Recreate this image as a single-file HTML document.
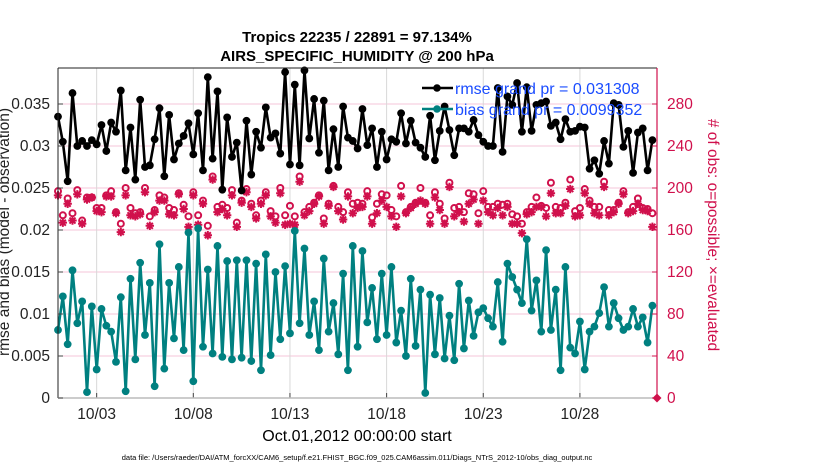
<!DOCTYPE html>
<html><head><meta charset="utf-8"><style>
html,body{margin:0;padding:0;background:#fff;}
svg text{font-family:"Liberation Sans",Arial,sans-serif;}
</style></head><body>
<svg id="chart" width="830" height="470" viewBox="0 0 830 470" xmlns="http://www.w3.org/2000/svg">
<g id="grid"></g>
<g id="series"></g>
<g id="axes"></g>
<text x="357" y="42" text-anchor="middle" font-size="15" font-weight="bold">Tropics 22235 / 22891 = 97.134%</text>
<text x="357" y="61" text-anchor="middle" font-size="15" font-weight="bold">AIRS_SPECIFIC_HUMIDITY @ 200 hPa</text>
<text x="357" y="441" text-anchor="middle" font-size="16">Oct.01,2012 00:00:00 start</text>
<text x="357" y="460" text-anchor="middle" font-size="7.5">data file: /Users/raeder/DAI/ATM_forcXX/CAM6_setup/f.e21.FHIST_BGC.f09_025.CAM6assim.011/Diags_NTrS_2012-10/obs_diag_output.nc</text>
<text transform="translate(9,232) rotate(-90)" text-anchor="middle" font-size="15.5" fill="#222">rmse and bias (model - observation)</text>
<text transform="translate(708,235) rotate(90)" text-anchor="middle" font-size="15.5" fill="#d0104c"># of obs: o=possible; ×=evaluated</text>
<g>
<line x1="422" y1="88" x2="453" y2="88" stroke="#000" stroke-width="2.4"/><circle cx="437" cy="88" r="3.8" fill="#000"/>
<line x1="422" y1="109" x2="453" y2="109" stroke="#008080" stroke-width="2.4"/><circle cx="437" cy="109" r="3.8" fill="#008080"/>
<text x="455" y="94" font-size="16" fill="#1a4cff">rmse grand pr = 0.031308</text>
<text x="455" y="115" font-size="16" fill="#1a4cff">bias grand pr = 0.0099352</text>
</g>
</svg>
<script>
const rmse=[33.5,30.5,25.8,36.3,30.0,30.6,30.0,30.7,30.2,32.5,29.4,32.8,31.7,36.6,27.1,32.2,26.0,35.5,27.5,27.7,30.8,34.5,26.4,33.7,28.4,30.3,31.2,32.7,29.0,33.9,27.1,38.2,
28.5,36.5,24.8,33.4,28.7,30.4,24.7,33.0,26.6,31.7,29.8,34.6,31.0,31.5,29.1,38.8,27.8,37.3,27.7,39.0,30.9,35.6,29.2,35.4,27.1,32.0,27.5,34.7,31.0,30.6,29.7,
34.4,30.1,32.1,27.5,31.7,28.4,30.8,30.5,33.9,30.3,33.0,30.4,29.8,28.7,33.6,28.3,31.8,34.7,31.9,28.9,32.1,32.1,31.7,33.1,31.3,30.5,30.0,30.0,36.9,29.3,35.9,
34.9,37.5,31.7,37.0,31.8,34.9,35.1,35.3,32.4,32.8,30.8,33.2,31.7,31.8,32.3,32.2,27.3,28.3,26.7,30.6,27.9,35.1,34.9,29.9,31.8,26.8,31.6,32.1,27.1,30.7];
const bias=[8.1,12.1,6.4,15.2,8.9,11.5,0.7,10.9,3.4,10.6,8.6,7.9,4.3,12.0,0.8,14.2,4.6,16.1,7.5,13.7,1.4,18.3,3.5,13.7,7.1,15.6,5.7,19.7,2.0,20.2,6.1,15.3,
5.3,18.1,4.9,16.3,4.6,16.4,4.8,16.4,4.4,16.0,3.3,17.1,5.1,15.0,7.0,15.7,7.7,19.9,8.9,17.8,7.5,11.5,5.7,16.6,7.9,11.3,5.2,14.8,3.3,18.1,6.1,
17.5,9.0,13.1,7.0,14.8,7.5,15.6,6.6,10.4,5.0,14.2,6.2,12.9,0.6,12.3,5.2,11.9,4.7,9.8,4.5,13.6,5.9,11.6,7.4,10.2,10.7,9.5,8.5,13.8,6.7,16.0,
14.4,12.9,11.3,18.9,10.4,14.0,7.9,17.6,8.1,12.9,3.3,15.6,6.0,5.3,9.1,3.4,7.9,8.5,10.1,13.2,8.5,11.3,9.5,8.1,8.5,10.6,8.5,9.6,6.6,11.0];
const possible=[197,174,190,176,198,169,191,191,181,181,193,197,177,166,200,181,176,177,200,173,179,193,191,181,179,195,184,173,196,174,188,164,
211,182,184,181,198,167,188,199,185,174,188,196,178,173,200,174,183,173,211,177,182,186,193,171,185,202,182,177,196,185,186,
185,197,172,185,194,193,179,173,202,177,182,186,200,186,174,196,185,171,205,181,182,177,195,194,176,197,182,182,185,184,185,
175,173,166,177,182,191,183,181,205,182,181,186,208,178,181,199,188,182,182,206,179,179,186,197,177,182,190,181,180,176];
const evaluated=[193,167,185,169,194,166,189,191,178,177,192,192,176,158,193,174,173,175,196,164,177,188,188,175,174,194,180,163,193,165,185,155,
208,177,180,174,193,163,186,196,182,171,185,193,173,167,195,165,166,165,206,174,178,185,192,166,183,201,178,170,192,176,181,
182,192,166,176,188,182,173,163,192,176,181,185,188,185,166,191,179,166,201,173,177,168,185,189,166,188,177,174,181,174,182,
166,166,157,175,177,182,182,173,195,176,176,183,199,173,174,195,185,176,174,201,174,177,185,194,176,178,185,179,178,163];
const tickDays=[2,7,12,17,22,27];
const tickLabels=["10/03","10/08","10/13","10/18","10/23","10/28"];
const leftTicks=[0,0.005,0.01,0.015,0.02,0.025,0.03,0.035];
const rightTicks=[0,40,80,120,160,200,240,280];

const L=58,R=657,T=68,B=398;
const NS='http://www.w3.org/2000/svg';
const xd=d=>L+d*19.33;
const xi=i=>xd(i*0.25);
const yl=v=>B-v/0.005*42;
const yr=c=>B-c/40*42;
function mk(tag,attrs,parent){const e=document.createElementNS(NS,tag);for(const k in attrs)e.setAttribute(k,attrs[k]);parent.appendChild(e);return e;}
const grid=document.getElementById('grid'),ser=document.getElementById('series'),ax=document.getElementById('axes');
mk('rect',{x:L,y:T,width:R-L,height:B-T,fill:'#fff'},grid);
rightTicks.forEach((c,k)=>{if(c===0)return;const l=mk('line',{x1:L,x2:R,y1:yr(c),y2:yr(c),stroke:'#f4c6d8','stroke-width':1},grid);

});
tickDays.forEach((d,k)=>{const l=mk('line',{x1:xd(d),x2:xd(d),y1:T,y2:B,stroke:'#d8d8d8','stroke-width':1},grid);


const t=mk('text',{x:xd(d),y:419,'text-anchor':'middle','font-size':15.5,fill:'#222'},ax);t.textContent=tickLabels[k];


mk('line',{x1:xd(d),x2:xd(d),y1:B,y2:B-5,stroke:'#444'},ax);});
possible.forEach((c,i)=>{const e=mk('circle',{cx:xi(i),cy:yr(c),r:3,fill:'none',stroke:'#d0104c','stroke-width':2},ser);

});
evaluated.forEach((c,i)=>{const x=xi(i),y=yr(c),s=4.2,q=3;const g=mk('path',{d:`M${x-s},${y}H${x+s}M${x},${y-s}V${y+s}M${x-q},${y-q}L${x+q},${y+q}M${x-q},${y+q}L${x+q},${y-q}`,stroke:'#d0104c','stroke-width':2},ser);

});
function line(arr,color,name){const pts=arr.map((v,i)=>xi(i).toFixed(1)+','+yl(v/1000).toFixed(1)).join(' ');
const p=mk('polyline',{points:pts,fill:'none',stroke:color,'stroke-width':2.6,'stroke-linejoin':'round'},ser);


arr.forEach((v,i)=>{const c=mk('circle',{cx:xi(i),cy:yl(v/1000),r:3.9,fill:color},ser);

});}
line(bias,'#008080','bias');
line(rmse,'#000','rmse');
mk('line',{x1:L,x2:R,y1:T,y2:T,stroke:'#222','stroke-width':1},ax);
mk('line',{x1:L,x2:L,y1:T,y2:B,stroke:'#222','stroke-width':1},ax);
mk('line',{x1:L,x2:R,y1:B,y2:B,stroke:'#bbb','stroke-width':1.5},ax);
mk('line',{x1:R,x2:R,y1:T,y2:B,stroke:'#d0104c','stroke-width':1.2},ax);
leftTicks.forEach(v=>{const t=mk('text',{x:50,y:yl(v)+5,'text-anchor':'end','font-size':15.5,fill:'#222'},ax);t.textContent=String(v);


mk('line',{x1:L,x2:L+5,y1:yl(v),y2:yl(v),stroke:'#444'},ax);});
rightTicks.forEach(c=>{const t=mk('text',{x:667,y:yr(c)+5,'font-size':15.5,fill:'#d0104c'},ax);t.textContent=String(c);


mk('line',{x1:R-5,x2:R,y1:yr(c),y2:yr(c),stroke:'#d0104c'},ax);});
const dm=mk('path',{d:`M${R},${B-4.5}L${R+4.5},${B}L${R},${B+4.5}L${R-4.5},${B}Z`,fill:'#d0104c'},ax);


</script>
</body></html>
